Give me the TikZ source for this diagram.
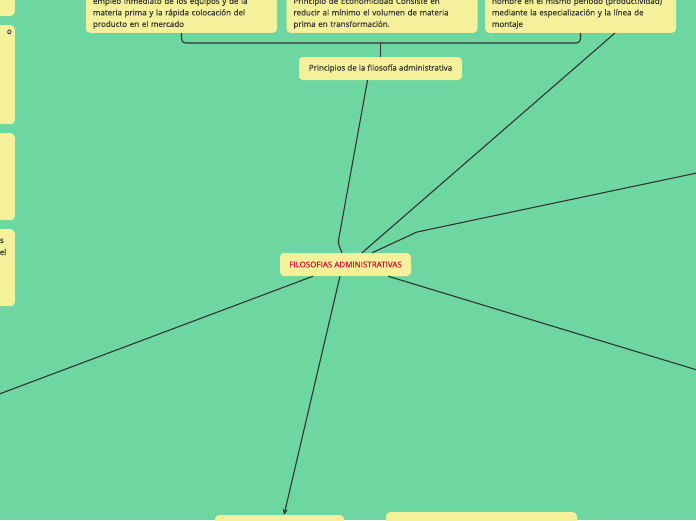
\documentclass[tikz,border=0pt]{standalone}
\usepackage{fontspec}
\setmainfont{Open Sans}
\newfontfamily\notefont{Open Sans}[FakeBold=0.35]
\usetikzlibrary{arrows.meta}
\definecolor{bg}{HTML}{6DD6A1}
\definecolor{notefill}{HTML}{F4F19A}
\definecolor{ink}{HTML}{333333}
\definecolor{titlered}{HTML}{D0103A}
\tikzset{
  note/.style={fill=notefill,rounded corners=4pt,text=ink,font=\notefont\fontsize{8}{11.5}\selectfont},
  topnote/.style={note,align=left,text width=177pt,inner xsep=7pt,inner ysep=4pt,anchor=south},
  link/.style={draw=ink,line width=1.1pt}
}
\begin{document}
\begin{tikzpicture}[x=1pt,y=-1pt]
        \useasboundingbox (0,0) rectangle (696,520);
        \fill[bg] (0,0) rectangle (696,520);
        \clip (0,0) rectangle (696,520);
        \node[topnote] (T1) at (181.5,33) {empleo inmediato de los equipos y de la\\materia prima y la rápida colocación del\\producto en el mercado};
        \node[topnote] (T2) at (382,33) {Principio de Economicidad Consiste en\\reducir al mínimo el volumen de materia\\prima en transformación.};
        \node[topnote] (T3) at (580.5,33) {hombre en el mismo periodo (productividad)\\mediante la especialización y la línea de\\montaje};
        \node[note,minimum width=163pt,minimum height=23pt] (PR) at (380.5,68.5) {Principios de la filosofía administrativa};
        \node[note,minimum width=131pt,minimum height=23pt,text=titlered] (FA) at (345.5,264.5) {FILOSOFIAS ADMINISTRATIVAS};
        \node[note,minimum width=129pt,minimum height=20pt,anchor=north] (B1) at (279.5,515) {};
        \node[note,minimum width=191pt,minimum height=20pt,anchor=north] (B2) at (481.5,512) {};
        \node[note,minimum width=40pt,minimum height=30pt,anchor=south east] (L1) at (15,16) {};
        \node[note,minimum width=40pt,minimum height=99pt,anchor=north east] (L2) at (15,25) {};
        \node[note,minimum width=40pt,minimum height=87pt,anchor=north east] (L3) at (15,133) {};
        \node[note,minimum width=40pt,minimum height=77pt,anchor=north east] (L4) at (15,229) {};
        \node[note,fill=none,anchor=base east,inner sep=0] (L2a) at (12,34) {o};
        \node[note,fill=none,anchor=base east,inner sep=0] (L4a) at (4,243) {s};
        \node[note,fill=none,anchor=base east,inner sep=0] (L4b) at (6.5,255) {del};
        \coordinate (R1) at (730,166);
        \coordinate (R2) at (730,380);
        \coordinate (W1) at (-30,405);
        \draw[link,rounded corners=4pt] (T1.south) -- ++(0,10) -| (T3.south);
        \draw[link] (PR.north) -- ++(0,-14);
        \draw[link,rounded corners=3pt] ([xshift=-3.5pt]FA.north) -- (338,243) -- ([xshift=-13pt]PR.south);
        \draw[link] ([xshift=16.5pt]FA.north) -- ([xshift=34.5pt]T3.south);
        \draw[link] ([xshift=26.5pt]FA.north) -- (417,232) -- (R1);
        \draw[link] ([xshift=42.5pt]FA.south) -- (R2);
        \draw[link] ([xshift=-32.5pt]FA.south) -- (W1);
        \draw[link,-{Stealth[length=6pt,width=5pt]}] ([xshift=-5.5pt]FA.south) -- ([xshift=4.5pt]B1.north);
\end{tikzpicture}
\end{document}
